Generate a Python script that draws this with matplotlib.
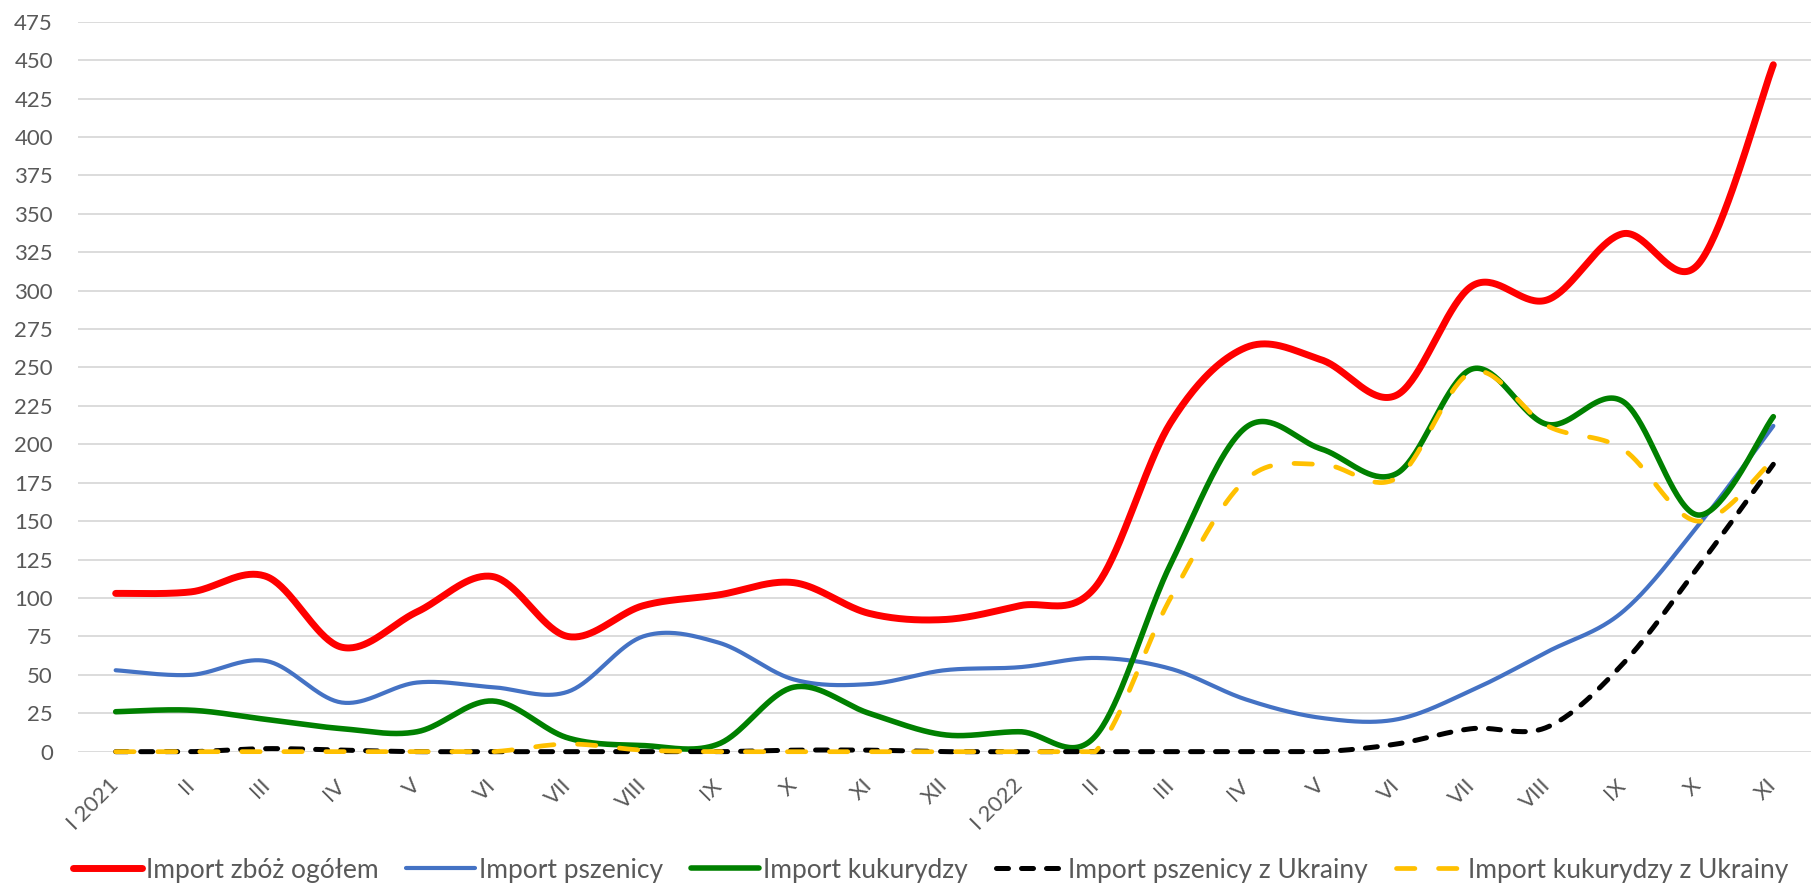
import numpy as np
import matplotlib
matplotlib.use("Agg")
import matplotlib.pyplot as plt

months = ["I 2021", "II", "III", "IV", "V", "VI", "VII", "VIII", "IX", "X", "XI", "XII",
          "I 2022", "II", "III", "IV", "V", "VI", "VII", "VIII", "IX", "X", "XI"]

import_total = [103, 104, 114, 68, 91, 114, 75, 95, 102, 110, 90, 86,
                95, 107, 214, 263, 255, 232, 303, 294, 337, 317, 447]
import_wheat = [53, 50, 59, 32, 45, 42, 39, 75, 71, 47, 44, 53,
                55, 61, 54, 34, 22, 21, 40, 65, 91, 147, 212]
import_maize = [26, 27, 21, 15, 13, 33, 9, 4, 5, 42, 25, 11,
                13, 10, 122, 211, 197, 181, 249, 213, 228, 154, 218]
wheat_ukraine = [0, 0, 2, 1, 0, 0, 0, 0, 0, 1, 1, 0,
                 0, 0, 0, 0, 0, 5, 15, 16, 57, 120, 187]
maize_ukraine = [0, 0, 0, 0, 0, 0, 5, 1, 0, 0, 0, 0,
                 0, 0, 100, 177, 187, 178, 247, 212, 197, 150, 190]

labels = ["Import zbóż ogółem", "Import pszenicy", "Import kukurydzy",
          "Import pszenicy z Ukrainy", "Import kukurydzy z Ukrainy"]
yticks = list(range(0, 476, 25))

plt.rcParams['font.family'] = ['Lato', 'DejaVu Sans']
TXT = '#595959'


def smooth(y, n=40):
    """Catmull-Rom style smoothing (as in spreadsheet 'smoothed line')."""
    y = np.asarray(y, dtype=float)
    x = np.arange(len(y), dtype=float)
    xs, ys = [], []
    N = len(y)
    for i in range(N - 1):
        im1 = max(i - 1, 0)
        ip2 = min(i + 2, N - 1)
        p0x, p3x = x[i], x[i + 1]
        p0y, p3y = y[i], y[i + 1]
        c1x = p0x + (x[i + 1] - x[im1]) / 6
        c1y = p0y + (y[i + 1] - y[im1]) / 6
        c2x = p3x - (x[ip2] - x[i]) / 6
        c2y = p3y - (y[ip2] - y[i]) / 6
        t = np.linspace(0, 1, n, endpoint=(i == N - 2))
        b0 = (1 - t) ** 3
        b1 = 3 * (1 - t) ** 2 * t
        b2 = 3 * (1 - t) * t ** 2
        b3 = t ** 3
        xs.append(b0 * p0x + b1 * c1x + b2 * c2x + b3 * p3x)
        ys.append(b0 * p0y + b1 * c1y + b2 * c2y + b3 * p3y)
    return np.concatenate(xs), np.maximum(np.concatenate(ys), 0)


fig = plt.figure(figsize=(18.11, 8.88), dpi=100)
ax = fig.add_axes([78 / 1811, (888 - 751.7) / 888, (1811 - 78) / 1811, 730 / 888])

series = [
    (import_total, dict(color='#FF0000', lw=5.0, solid_capstyle='round')),
    (import_wheat, dict(color='#4472C4', lw=3.0, solid_capstyle='round')),
    (import_maize, dict(color='#008000', lw=4.0, solid_capstyle='round')),
    (wheat_ukraine, dict(color='#000000', lw=3.6, dashes=(2.4, 2.6), dash_capstyle='round')),
    (maize_ukraine, dict(color='#FFC000', lw=3.4, dashes=(3.9, 5.0), dash_capstyle='round')),
]
for (vals, kw), lab in zip(series, labels):
    xs, ys = smooth(vals)
    ax.plot(xs, ys, label=lab, clip_on=False, **kw)

ax.set_xlim(-0.5, len(months) - 0.5)
ax.set_ylim(0, 475)
ax.set_yticks(yticks)
ax.set_yticklabels([str(v) for v in yticks])
ax.set_xticks(range(len(months)))
ax.set_xticklabels(months, rotation=45, ha='right', va='center', rotation_mode='anchor')
ax.tick_params(axis='both', length=0, labelsize=16, labelcolor=TXT)
ax.tick_params(axis='y', pad=18)
ax.tick_params(axis='x', pad=22)
ax.grid(axis='y', color='#D9D9D9', lw=1.3)
ax.set_axisbelow(True)
for s in ax.spines.values():
    s.set_visible(False)

leg = fig.legend(loc='center', bbox_to_anchor=(931 / 1811, 18 / 888), ncol=5,
                 frameon=False, fontsize=19, handlelength=2.6, handletextpad=0.15,
                 columnspacing=1.05, borderaxespad=0, borderpad=0)
for t in leg.get_texts():
    t.set_color(TXT)

fig.savefig('out.png', dpi=100)
